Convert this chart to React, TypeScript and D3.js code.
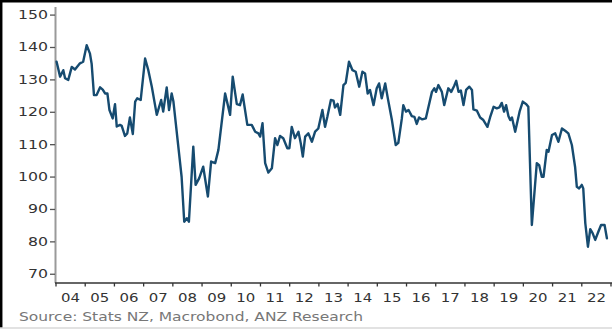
import React from "react";
import * as d3 from "d3";

const dates: number[] = [
  2004.02, 2004.14, 2004.25, 2004.31, 2004.42, 2004.54, 2004.65, 2004.82, 2004.93, 2005.05,
  2005.16, 2005.22, 2005.30, 2005.39, 2005.51, 2005.60, 2005.68, 2005.76, 2005.83, 2005.94,
  2006.02, 2006.08, 2006.19, 2006.25, 2006.36, 2006.44, 2006.53, 2006.63, 2006.71, 2006.78,
  2006.90, 2007.05, 2007.16, 2007.28, 2007.45, 2007.60, 2007.67, 2007.79, 2007.87, 2007.96,
  2008.02, 2008.30, 2008.39, 2008.48, 2008.55, 2008.70, 2008.78, 2008.90, 2009.04, 2009.20,
  2009.31, 2009.45, 2009.56, 2009.79, 2009.96, 2010.05, 2010.19, 2010.30, 2010.39, 2010.55,
  2010.70, 2010.82, 2010.93, 2010.99, 2011.07, 2011.16, 2011.27, 2011.39, 2011.50, 2011.58,
  2011.67, 2011.78, 2011.92, 2011.99, 2012.07, 2012.18, 2012.30, 2012.38, 2012.45, 2012.53,
  2012.64, 2012.76, 2012.87, 2012.98, 2013.12, 2013.21, 2013.29, 2013.41, 2013.50, 2013.55,
  2013.64, 2013.73, 2013.84, 2013.92, 2014.03, 2014.15, 2014.26, 2014.38, 2014.49, 2014.58,
  2014.67, 2014.75, 2014.87, 2014.98, 2015.06, 2015.15, 2015.27, 2015.36, 2015.50, 2015.63,
  2015.72, 2015.84, 2015.89, 2015.98, 2016.07, 2016.18, 2016.27, 2016.35, 2016.43, 2016.54,
  2016.66, 2016.87, 2016.95, 2017.01, 2017.09, 2017.21, 2017.29, 2017.43, 2017.53, 2017.63,
  2017.70, 2017.78, 2017.86, 2017.95, 2018.04, 2018.15, 2018.24, 2018.29, 2018.41, 2018.52,
  2018.63, 2018.77, 2018.86, 2018.98, 2019.09, 2019.18, 2019.26, 2019.34, 2019.41, 2019.49,
  2019.55, 2019.61, 2019.72, 2019.87, 2019.98, 2020.10, 2020.17, 2020.29, 2020.46, 2020.54,
  2020.63, 2020.69, 2020.80, 2020.86, 2020.98, 2021.09, 2021.20, 2021.32, 2021.43, 2021.54,
  2021.66, 2021.77, 2021.83, 2021.91, 2022.00, 2022.05, 2022.12, 2022.21, 2022.29, 2022.37,
  2022.46, 2022.57, 2022.66, 2022.78, 2022.86,
];

const values: number[] = [
  135.6, 131.0, 133.0, 130.5, 130.0, 134.0, 133.2, 135.1, 135.6, 140.7,
  138.2, 135.0, 125.3, 125.3, 127.7, 127.0, 125.8, 125.8, 120.7, 118.1,
  122.5, 115.6, 116.1, 115.8, 112.7, 113.5, 118.4, 113.3, 123.3, 124.3,
  123.8, 136.6, 133.0, 127.9, 119.2, 123.8, 120.2, 127.7, 120.7, 125.8,
  123.3, 100.1, 86.2, 87.3, 86.2, 109.4, 97.6, 99.6, 103.2, 94.0,
  104.8, 104.3, 108.4, 125.8, 119.2, 131.0, 122.5, 122.2, 125.5, 116.1,
  116.1, 114.0, 113.5, 112.5, 116.6, 104.3, 101.4, 102.7, 112.0, 109.9,
  112.7, 112.0, 108.9, 108.9, 115.5, 112.0, 114.0, 110.4, 106.3, 112.5,
  113.5, 110.9, 114.0, 115.0, 120.7, 115.5, 118.6, 123.8, 123.6, 121.5,
  122.6, 119.2, 128.4, 129.1, 135.6, 133.0, 132.5, 127.9, 132.5, 132.0,
  125.8, 126.9, 122.2, 127.4, 128.9, 124.3, 128.9, 124.3, 117.6, 109.9,
  110.6, 118.1, 122.2, 120.2, 120.7, 118.8, 118.6, 116.4, 118.4, 117.8,
  118.1, 126.3, 127.4, 126.3, 128.4, 126.3, 122.2, 127.4, 126.3, 128.1,
  129.7, 126.3, 126.7, 122.2, 126.9, 127.9, 126.9, 120.9, 120.5, 118.4,
  117.6, 115.5, 118.4, 121.7, 121.2, 121.5, 122.9, 120.2, 122.2, 118.8,
  117.6, 118.4, 114.0, 120.2, 123.3, 122.5, 121.7, 85.2, 104.3, 103.7,
  100.1, 100.1, 108.4, 107.8, 113.0, 113.5, 110.9, 115.0, 114.3, 113.5,
  109.9, 103.2, 97.0, 96.5, 97.6, 96.5, 85.8, 78.5, 83.9, 82.7,
  80.6, 83.2, 85.2, 85.2, 81.1,
];

const yTicks: number[] = [70, 80, 90, 100, 110, 120, 130, 140, 150];
const xYears: number[] = [2004, 2005, 2006, 2007, 2008, 2009, 2010, 2011, 2012, 2013, 2014, 2015, 2016, 2017, 2018, 2019, 2020, 2021, 2022];
const xLabels: string[] = ["04", "05", "06", "07", "08", "09", "10", "11", "12", "13", "14", "15", "16", "17", "18", "19", "20", "21", "22"];
const sourceText = "Source: Stats NZ, Macrobond, ANZ Research";

const W = 612;
const H = 329;
const FONT = "'DejaVu Sans', Verdana, sans-serif";

export default function App() {
  const x = d3.scaleLinear().domain([2004, 2023]).range([56, 611]);
  const y = d3.scaleLinear().domain([67.3, 152.5]).range([283, 7]);
  const pts: [number, number][] = dates.map((d, i) => [d, values[i]]);
  const line = d3
    .line<[number, number]>()
    .x((d) => x(d[0]))
    .y((d) => y(d[1]));
  const axisY = y(67.3);

  return (
    <svg
      width={W}
      height={H}
      style={{ position: "absolute", left: 0, top: 0, background: "#fff" }}
    >
      <rect x={0} y={0} width={W} height={H} fill="#fff" />
      {/* frame */}
      <line x1={0} x2={W} y1={1.2} y2={1.2} stroke="#000" strokeWidth={2.5} />
      <line x1={1.2} x2={1.2} y1={0} y2={328} stroke="#000" strokeWidth={2.5} />
      <line x1={0} x2={W} y1={328} y2={328} stroke="#d8d8d8" strokeWidth={1.5} />

      {/* y axis */}
      <line x1={55.5} x2={55.5} y1={y(152.5)} y2={axisY} stroke="#9a9a9a" strokeWidth={2} />
      {yTicks.map((t) => (
        <g key={t}>
          <line x1={50} x2={55} y1={y(t)} y2={y(t)} stroke="#555" strokeWidth={1.3} />
          <text
            x={48}
            y={y(t)}
            textAnchor="end"
            dominantBaseline="central"
            fontFamily={FONT}
            fontSize={12}
            fill="#333"
            textLength={String(t).length * 10}
            lengthAdjust="spacingAndGlyphs"
          >
            {t}
          </text>
        </g>
      ))}

      {/* x axis */}
      <line x1={55} x2={W} y1={axisY} y2={axisY} stroke="#333" strokeWidth={1.3} />
      {xYears.map((yr, i) => (
        <g key={yr}>
          <line x1={x(yr)} x2={x(yr)} y1={axisY} y2={axisY + 3.5} stroke="#333" strokeWidth={1.3} />
          <text
            x={x(yr + 0.5)}
            y={302}
            textAnchor="middle"
            fontFamily={FONT}
            fontSize={13}
            fill="#333"
            textLength={19}
            lengthAdjust="spacingAndGlyphs"
          >
            {xLabels[i]}
          </text>
        </g>
      ))}
      <line x1={x(2023)} x2={x(2023)} y1={axisY} y2={axisY + 3.5} stroke="#333" strokeWidth={1.3} />

      {/* series */}
      <path
        d={line(pts) || ""}
        fill="none"
        stroke="#164b70"
        strokeWidth={2.4}
        strokeLinejoin="round"
        strokeLinecap="round"
      />

      {/* source */}
      <text
        x={19}
        y={321}
        fontFamily={FONT}
        fontSize={12.5}
        fill="#777"
        textLength={344}
        lengthAdjust="spacingAndGlyphs"
      >
        {sourceText}
      </text>
    </svg>
  );
}
